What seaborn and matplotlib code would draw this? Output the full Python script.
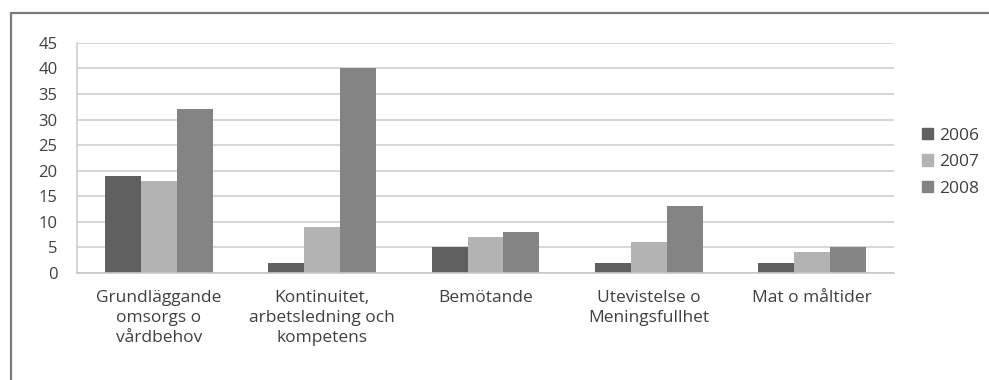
import pandas as pd
import numpy as np
import matplotlib
matplotlib.use("Agg")
import matplotlib.pyplot as plt
from matplotlib.lines import Line2D
import seaborn as sns

categories = ["Grundläggande\nomsorgs o\nvårdbehov",
              "Kontinuitet,\narbetsledning och\nkompetens",
              "Bemötande",
              "Utevistelse o\nMeningsfullhet",
              "Mat o måltider"]
years = ["2006", "2007", "2008"]
v2006 = [19, 2, 5, 2, 2]
v2007 = [18, 9, 7, 6, 4]
v2008 = [32, 40, 8, 13, 5]

df = pd.DataFrame({"kategori": categories, "2006": v2006, "2007": v2007, "2008": v2008})
long = df.melt(id_vars="kategori", var_name="år", value_name="antal")

sns.set_style("white")
plt.rcParams["font.family"] = ["Open Sans", "DejaVu Sans"]
colors = ["#606060", "#b3b3b3", "#848484"]
txt = "#404040"

fig = plt.figure(figsize=(9.89, 3.8), dpi=100)
ax = fig.add_axes([0.0779, 0.282, 0.826, 0.605])
sns.barplot(data=long, x="kategori", y="antal", hue="år", palette=colors,
            width=0.66, gap=0, saturation=1, linewidth=0, ax=ax, legend=False)

ax.set_ylim(0, 45)
ax.set_xlim(-0.5, 4.5)
ax.set_yticks(range(0, 46, 5))
ax.yaxis.grid(True, color="#d0d0d0", linewidth=1.2)
ax.set_axisbelow(True)
for s in ["top", "right"]:
    ax.spines[s].set_visible(False)
ax.spines["left"].set_color("#d0d0d0")
ax.spines["bottom"].set_color("#c8c8c8")
ax.spines["left"].set_linewidth(1.2)
ax.spines["bottom"].set_linewidth(1.2)
ax.set_xlabel("")
ax.set_ylabel("")
ax.tick_params(axis="y", length=5, width=1.2, color="#d0d0d0", labelsize=12, labelcolor=txt, pad=9)
ax.tick_params(axis="x", length=0, labelsize=12.5, labelcolor=txt, pad=12)
ax.set_xticks(np.arange(-0.5, 5, 1), minor=True)
ax.tick_params(axis="x", which="minor", length=5, color="#c8c8c8")
for lbl in ax.get_xticklabels():
    lbl.set_horizontalalignment("center")
    lbl.set_multialignment("center")
    lbl.set_linespacing(1.35)

handles = [plt.Rectangle((0, 0), 1, 1, color=c) for c in colors]
fig.legend(handles, years, loc="upper left", bbox_to_anchor=(0.932, 0.664),
           frameon=False, fontsize=12.5, handlelength=0.65, handleheight=0.65,
           handletextpad=0.35, labelspacing=0.6, labelcolor=txt,
           borderaxespad=0, borderpad=0)

# ramen runt diagrammet
fig.add_artist(Line2D([0.011, 1.0], [0.966, 0.966], color="#7a7a7a", linewidth=1.6))
fig.add_artist(Line2D([0.011, 0.011], [0.0, 0.966], color="#7a7a7a", linewidth=1.6))

fig.savefig("out.png", dpi=100)
